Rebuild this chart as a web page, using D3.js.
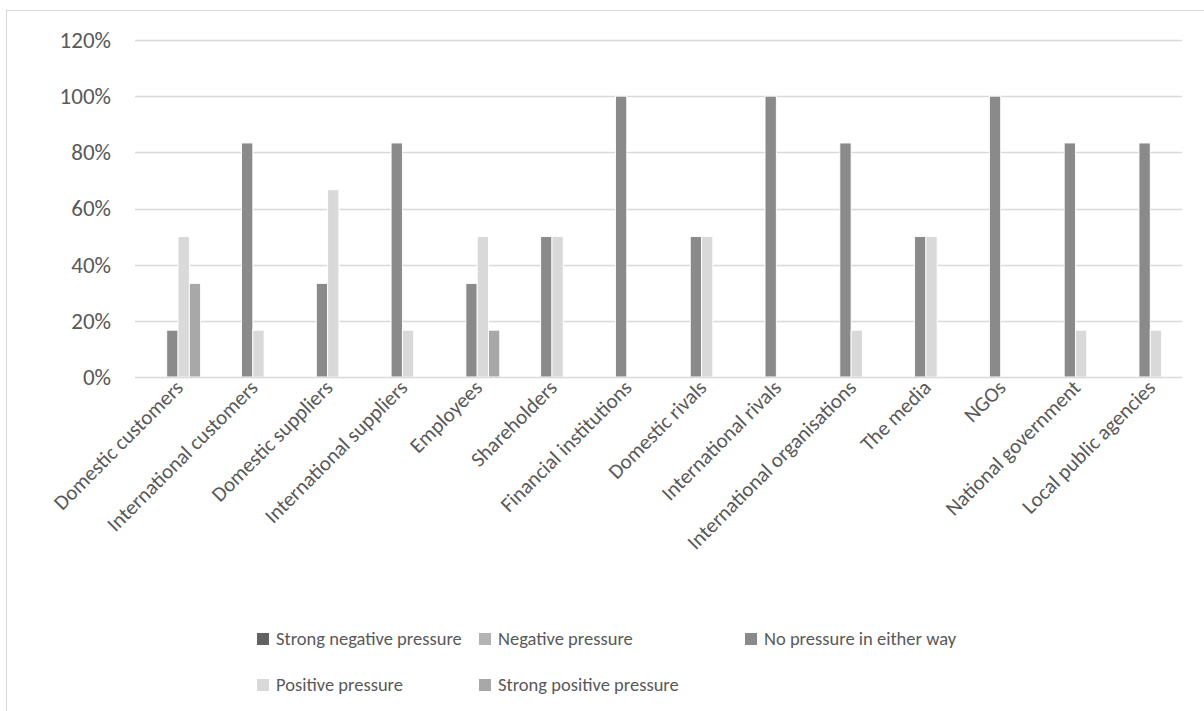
<!DOCTYPE html>
<html>
<head>
<meta charset="utf-8">
<script src="https://cdn.jsdelivr.net/npm/d3@7"></script>
<style>
  html, body { margin: 0; padding: 0; background: #fff; }
  svg { display: block; }
  text { font-family: Carlito, Calibri, Lato, "Open Sans", sans-serif; fill: #595959; }
</style>
</head>
<body>
<svg id="chart" width="1204" height="711"></svg>
<script>
// Stakeholder groups on the category axis
const categories = [
  "Domestic customers", "International customers", "Domestic suppliers",
  "International suppliers", "Employees", "Shareholders", "Financial institutions",
  "Domestic rivals", "International rivals", "International organisations",
  "The media", "NGOs", "National government", "Local public agencies"
];

// Share of respondents (%) per pressure level
const strongNegative = [0, 0, 0, 0, 0, 0, 0, 0, 0, 0, 0, 0, 0, 0];
const negative       = [0, 0, 0, 0, 0, 0, 0, 0, 0, 0, 0, 0, 0, 0];
const noPressure     = [16.67, 83.33, 33.33, 83.33, 33.33, 50, 100, 50, 100, 83.33, 50, 100, 83.33, 83.33];
const positive       = [50, 16.67, 66.67, 16.67, 50, 50, 0, 50, 0, 16.67, 50, 0, 16.67, 16.67];
const strongPositive = [33.33, 0, 0, 0, 16.67, 0, 0, 0, 0, 0, 0, 0, 0, 0];

const seriesNames = [
  "Strong negative pressure", "Negative pressure", "No pressure in either way",
  "Positive pressure", "Strong positive pressure"
];
const seriesValues = [strongNegative, negative, noPressure, positive, strongPositive];
const seriesColors = ["#626262", "#b3b3b3", "#8a8a8a", "#d9d9d9", "#a8a8a8"];

const yTicks = [0, 20, 40, 60, 80, 100, 120];

const FONT = "Carlito, Calibri, Lato, 'Open Sans', sans-serif";
const svg = d3.select("#chart");

// Chart frame
svg.append("rect")
  .attr("x", 6.5).attr("y", 10.5)
  .attr("width", 1204).attr("height", 711)
  .attr("fill", "none").attr("stroke", "#d9d9d9").attr("stroke-width", 1);

const plot = { left: 135, right: 1182, top: 40, bottom: 377 };

const x = d3.scaleBand()
  .domain(categories)
  .range([plot.left, plot.right])
  .paddingInner(0).paddingOuter(0);

const y = d3.scaleLinear()
  .domain([0, 120])
  .range([plot.bottom, plot.top]);

const clusterWidth = x.bandwidth() * 0.755;
const xs = d3.scaleBand()
  .domain(d3.range(seriesNames.length))
  .range([(x.bandwidth() - clusterWidth) / 2, (x.bandwidth() + clusterWidth) / 2]);

// Horizontal gridlines
svg.append("g")
  .selectAll("line")
  .data(yTicks.filter(t => t > 0))
  .join("line")
  .attr("x1", plot.left).attr("x2", plot.right)
  .attr("y1", d => Math.round(y(d)) + 0.5).attr("y2", d => Math.round(y(d)) + 0.5)
  .attr("stroke", "#d9d9d9").attr("stroke-width", 1.3);

// Y axis labels
const yAxis = d3.axisLeft(y)
  .tickValues(yTicks)
  .tickFormat(d => d + "%")
  .tickSize(0)
  .tickPadding(0);
const yG = svg.append("g")
  .attr("transform", `translate(${111},0)`)
  .call(yAxis);
yG.select(".domain").remove();
yG.selectAll("text")
  .attr("font-size", 23)
  .style("font-family", FONT)
  .attr("fill", "#595959");

// Bars
const groups = svg.append("g")
  .selectAll("g")
  .data(categories)
  .join("g")
  .attr("transform", d => `translate(${x(d)},0)`);

groups.selectAll("rect")
  .data((c, i) => seriesValues.map((vals, s) => ({ s, v: vals[i] })).filter(d => d.v > 0))
  .join("rect")
  .attr("x", d => xs(d.s))
  .attr("width", xs.bandwidth())
  .attr("y", d => y(d.v))
  .attr("height", d => y(0) - y(d.v))
  .attr("fill", d => seriesColors[d.s])
  .attr("stroke", "#ffffff")
  .attr("stroke-width", 0.9);

// Category axis line
svg.append("line")
  .attr("x1", plot.left).attr("x2", plot.right)
  .attr("y1", plot.bottom + 0.5).attr("y2", plot.bottom + 0.5)
  .attr("stroke", "#d9d9d9").attr("stroke-width", 1.3);

// Rotated category labels
const xAxis = d3.axisBottom(x).tickSize(0).tickPadding(0);
const xG = svg.append("g")
  .attr("transform", `translate(0,${plot.bottom})`)
  .call(xAxis);
xG.select(".domain").remove();
xG.selectAll("text")
  .attr("font-size", 21)
  .style("font-family", FONT)
  .attr("fill", "#595959")
  .attr("text-anchor", "end")
  .attr("dy", null)
  .attr("y", 0)
  .attr("transform", "translate(12,12) rotate(-45)");

// Legend
const legendPos = [
  { x: 257, y: 639 }, { x: 479, y: 639 }, { x: 745, y: 639 },
  { x: 257, y: 685 }, { x: 479, y: 685 }
];
const legend = svg.append("g")
  .selectAll("g")
  .data(seriesNames)
  .join("g")
  .attr("transform", (d, i) => `translate(${legendPos[i].x},${legendPos[i].y})`);
legend.append("rect")
  .attr("x", 0).attr("y", -6)
  .attr("width", 12).attr("height", 12)
  .attr("fill", (d, i) => seriesColors[i]);
legend.append("text")
  .attr("x", 19).attr("y", 0)
  .attr("dy", "0.35em")
  .attr("font-size", 18.5)
  .text(d => d);
</script>
</body>
</html>
